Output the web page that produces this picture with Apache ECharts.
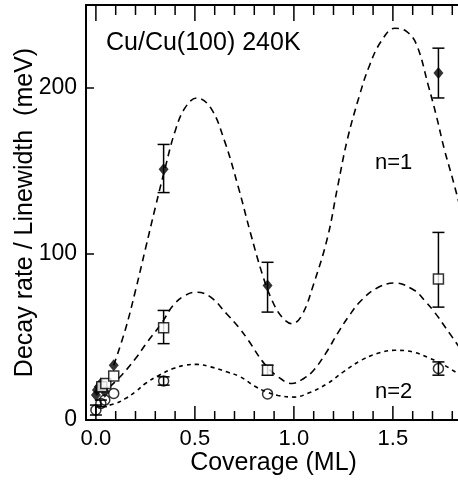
<!DOCTYPE html>
<html>
<head>
<meta charset="utf-8">
<script src="https://cdn.jsdelivr.net/npm/echarts@6/dist/echarts.min.js"></script>
<style>
  html, body { margin: 0; padding: 0; background: #fff; }
  #chart { width: 458px; height: 482px; }
</style>
</head>
<body>
<div id="chart"></div>
<script>
// tick positions
var xMajorTicks = [0, 0.5, 1.0, 1.5];
var xMinorTicks = [0.1, 0.2, 0.3, 0.4, 0.6, 0.7, 0.8, 0.9, 1.1, 1.2, 1.3, 1.4, 1.6, 1.7, 1.8];
var yTicks = [0, 100, 200];

// n=1 decay rate (filled diamonds)
var diamonds = [[0.0, 15], [0.005, 18], [0.015, 20], [0.025, 22], [0.035, 20], [0.045, 17],
  [0.09, 33], [0.342, 151], [0.867, 81], [1.73, 209]];
var diamondErr = [[0.342, 137, 166], [0.867, 65, 95], [1.73, 194, 224]];

// n=1 linewidth (open squares)
var squares = [[0.03, 20], [0.05, 22], [0.09, 26.5], [0.342, 55.5], [0.867, 30], [1.73, 85]];
var squareErr = [[0.342, 46, 66], [0.867, 27, 33], [1.73, 68, 113]];

// n=2 (open circles)
var circles = [[0.0, 6], [0.025, 10], [0.045, 12], [0.09, 16], [0.342, 23.5], [0.867, 15.7], [1.73, 31]];
var circleErr = [[0.0, 3, 9], [0.025, 8, 12], [0.342, 21, 26], [1.73, 27, 35]];

// dashed model curves
var curveUpper = [[0.09, 33], [0.15, 55], [0.20, 78], [0.25, 103], [0.30, 128], [0.35, 152], [0.40, 174],
  [0.45, 188], [0.51, 194], [0.58, 188], [0.65, 168], [0.72, 140], [0.78, 113], [0.84, 88], [0.89, 72],
  [0.94, 62], [0.99, 58], [1.04, 63], [1.10, 82], [1.17, 110], [1.22, 140], [1.27, 169], [1.33, 195],
  [1.38, 213], [1.44, 228], [1.51, 236], [1.57, 234], [1.62, 226], [1.68, 201], [1.72, 183],
  [1.76, 163], [1.80, 146], [1.84, 128]];
var curveMiddle = [[0.07, 20], [0.13, 27], [0.20, 37], [0.26, 47], [0.33, 58], [0.39, 69], [0.45, 75],
  [0.51, 77], [0.58, 74], [0.66, 64], [0.72, 56], [0.77, 48], [0.85, 34], [0.92, 26], [0.99, 22],
  [1.05, 25], [1.10, 30], [1.16, 40], [1.22, 52], [1.28, 63], [1.34, 72], [1.42, 79.5], [1.51, 82.5],
  [1.61, 78], [1.66, 72], [1.71, 65], [1.77, 55], [1.84, 43]];
var curveLower = [[0.03, 8], [0.10, 10], [0.15, 13], [0.20, 17], [0.25, 22], [0.32, 27], [0.39, 31],
  [0.45, 33], [0.51, 33.5], [0.58, 32], [0.66, 29], [0.73, 26], [0.80, 20.5], [0.86, 17], [0.92, 14.8],
  [1.0, 13.8], [1.08, 16.5], [1.17, 22], [1.25, 29], [1.34, 36], [1.42, 40], [1.51, 42], [1.60, 41],
  [1.68, 37.5], [1.76, 33], [1.84, 27]];

var FONT = '"Liberation Sans", Arial, sans-serif';
var X_MIN = -0.05, X_MAX = 1.844;
var Y_MIN = 0, Y_MAX = 250;

function lineStyle() {
  return { stroke: '#000', lineWidth: 1.5 };
}

function errorBars(data) {
  return {
    type: 'custom',
    data: data,
    encode: { x: 0, y: [1, 2] },
    silent: true,
    z: 2,
    renderItem: function (params, api) {
      var x = api.value(0);
      var lo = api.coord([x, api.value(1)]);
      var hi = api.coord([x, api.value(2)]);
      var w = 6;
      return {
        type: 'group',
        children: [
          { type: 'line', shape: { x1: lo[0], y1: lo[1], x2: hi[0], y2: hi[1] }, style: lineStyle() },
          { type: 'line', shape: { x1: lo[0] - w, y1: lo[1], x2: lo[0] + w, y2: lo[1] }, style: lineStyle() },
          { type: 'line', shape: { x1: hi[0] - w, y1: hi[1], x2: hi[0] + w, y2: hi[1] }, style: lineStyle() }
        ]
      };
    }
  };
}

function curve(data, dash) {
  return {
    type: 'line',
    data: data,
    smooth: 0.4,
    showSymbol: false,
    silent: true,
    lineStyle: { color: '#000', width: 1.6, type: dash }
  };
}

var labels = [
  { type: 'text', x: 106, y: 43, style: { text: 'Cu/Cu(100) 240K', font: '25px ' + FONT, fill: '#000', verticalAlign: 'middle' } },
  { type: 'text', x: 375, y: 163, style: { text: 'n=1', font: '22px ' + FONT, fill: '#000', verticalAlign: 'middle' } },
  { type: 'text', x: 375, y: 392, style: { text: 'n=2', font: '22px ' + FONT, fill: '#000', verticalAlign: 'middle' } }
];

var chart = echarts.init(document.getElementById('chart'));
chart.setOption({
  animation: false,
  grid: { left: 86, top: 5, right: -3, bottom: 62, outerBoundsMode: 'none' },
  xAxis: [{
    type: 'value',
    position: 'bottom',
    min: X_MIN,
    max: X_MAX,
    name: 'Coverage (ML)',
    nameLocation: 'middle',
    nameGap: 31,
    nameMoveOverlap: false,
    nameTextStyle: { fontFamily: FONT, fontSize: 25, color: '#000' },
    axisLine: { show: true, onZero: false, lineStyle: { color: '#000', width: 2 } },
    axisTick: { show: false },
    axisLabel: {
      customValues: xMajorTicks, margin: 8,
      fontFamily: FONT, fontSize: 22, color: '#000',
      formatter: function (v) { return v.toFixed(1); }
    },
    splitLine: { show: false }
  }, {
    type: 'value',
    position: 'top',
    min: X_MIN,
    max: X_MAX,
    axisLine: { show: true, onZero: false, lineStyle: { color: '#000', width: 2 } },
    axisTick: { show: false },
    axisLabel: { show: false },
    splitLine: { show: false }
  }],
  yAxis: {
    type: 'value',
    min: Y_MIN,
    max: Y_MAX,
    name: 'Decay rate / Linewidth  (meV)',
    nameLocation: 'middle',
    nameGap: 48,
    nameMoveOverlap: false,
    nameTextStyle: { fontFamily: FONT, fontSize: 25, color: '#000' },
    axisLine: { show: true, onZero: false, lineStyle: { color: '#000', width: 2 } },
    axisTick: { show: false },
    axisLabel: { customValues: yTicks, margin: 9, fontFamily: FONT, fontSize: 23, color: '#000' },
    splitLine: { show: false }
  },
  series: [
    curve(curveUpper, [7, 5]),
    curve(curveMiddle, [7, 5]),
    curve(curveLower, [4, 4]),
    errorBars(diamondErr),
    errorBars(squareErr),
    errorBars(circleErr),
    {
      type: 'scatter', data: diamonds, symbol: 'diamond', symbolSize: [10, 12], z: 3, silent: true,
      itemStyle: { color: '#000' }
    },
    {
      type: 'scatter', data: squares, symbol: 'rect', symbolSize: 10, z: 3, silent: true,
      itemStyle: { color: '#fff', borderColor: '#000', borderWidth: 1.5 }
    },
    {
      type: 'scatter', data: circles, symbol: 'circle', symbolSize: 10, z: 4, silent: true,
      itemStyle: { color: 'rgba(0,0,0,0)', borderColor: '#000', borderWidth: 1.5 }
    }
  ]
});

// frame ticks: pixel positions come from the chart's own x/y scales
function toPx(pt) {
  return chart.convertToPixel({ xAxisIndex: 0, yAxisIndex: 0 }, pt);
}
function tickLine(x1, y1, x2, y2) {
  return { type: 'line', silent: true, z: 100, shape: { x1: x1, y1: y1, x2: x2, y2: y2 }, style: lineStyle() };
}
var ticks = [];
function addXTicks(values, lenBottom, lenTop) {
  values.forEach(function (v) {
    var b = toPx([v, Y_MIN]);
    var t = toPx([v, Y_MAX]);
    ticks.push(tickLine(b[0], b[1], b[0], b[1] - lenBottom));
    ticks.push(tickLine(t[0], t[1], t[0], t[1] + lenTop));
  });
}
addXTicks(xMajorTicks, 14, 16);
addXTicks(xMinorTicks, 9, 10);
yTicks.forEach(function (v) {
  var p = toPx([X_MIN, v]);
  ticks.push(tickLine(p[0], p[1], p[0] + 8, p[1]));
});

chart.setOption({ graphic: labels.concat(ticks) });
</script>
</body>
</html>
